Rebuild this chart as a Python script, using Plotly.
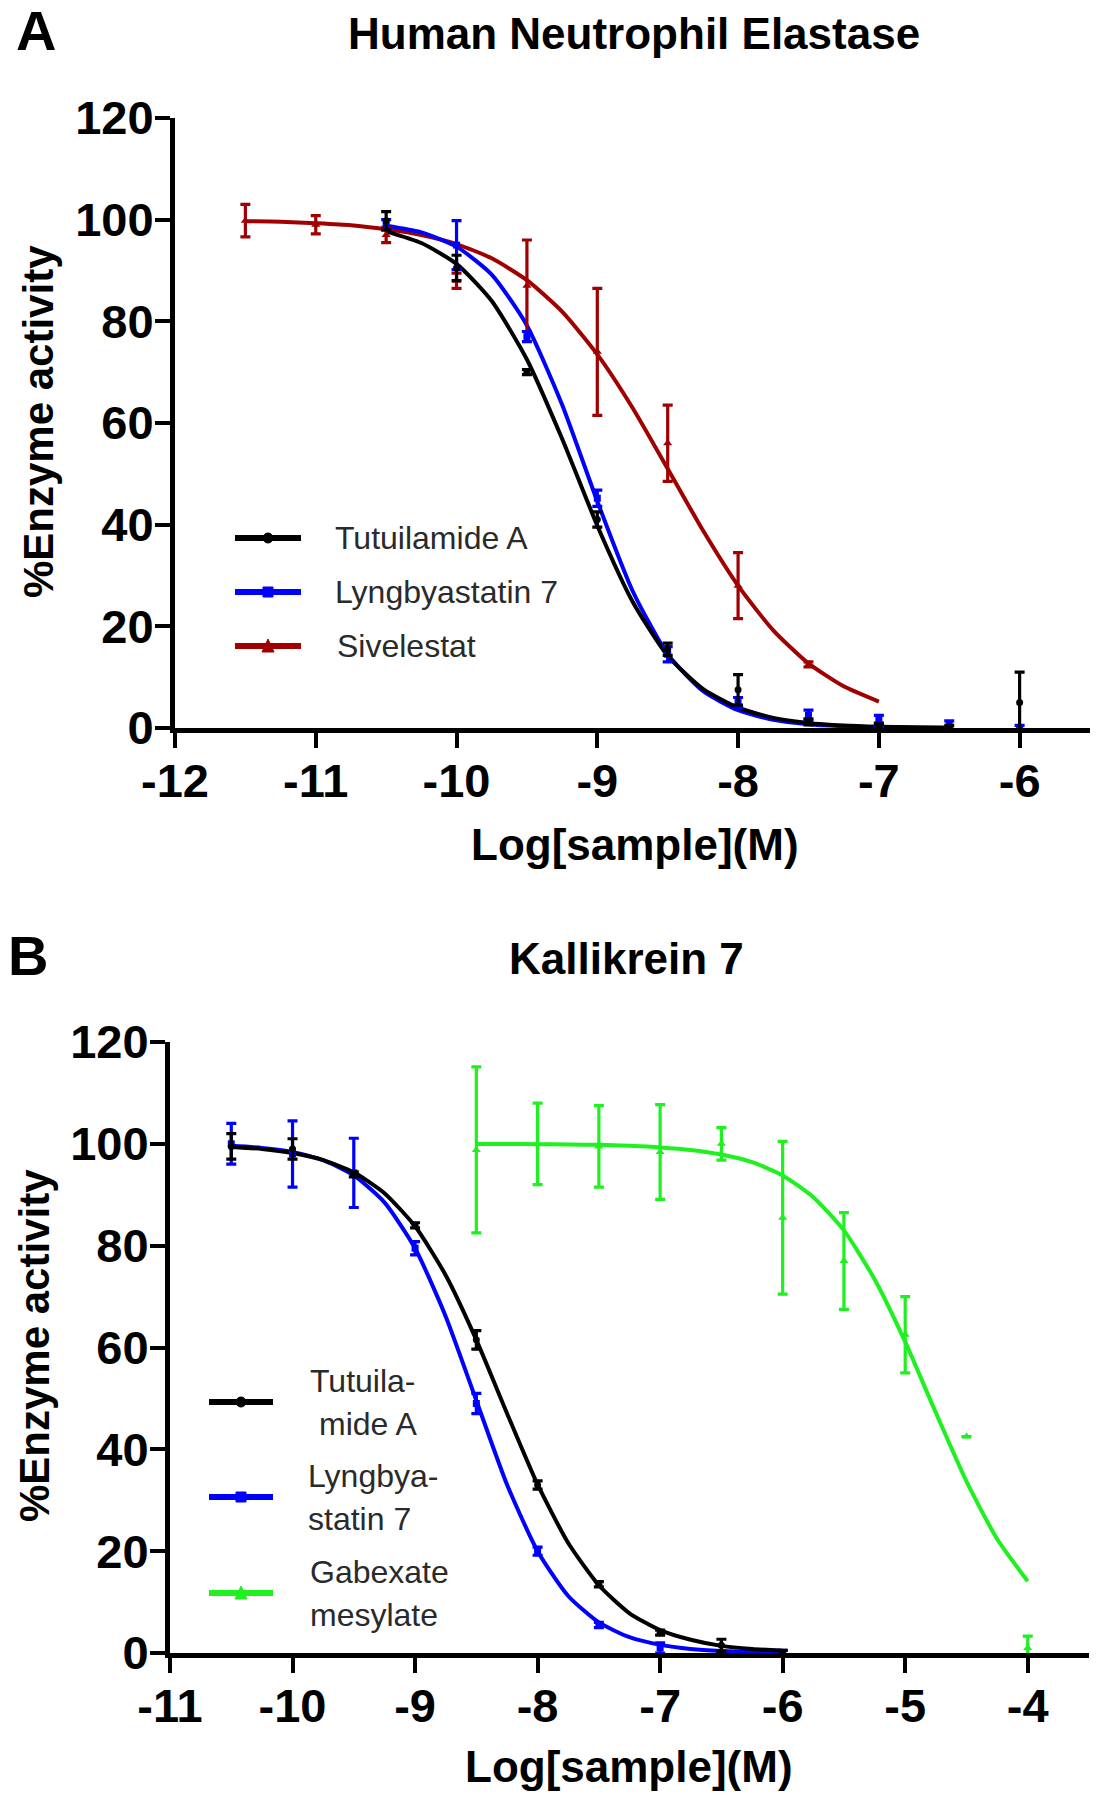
import plotly.graph_objects as go

W, H = 1102, 1800

# ---------------- Panel A : Human Neutrophil Elastase ----------------
a_x = [-10.5, -10, -9.5, -9, -8.5, -8, -7.5, -7, -6.5, -6]
a_tut_y = [99.8, 90.5, 70, 41, 15.5, 7.5, 1.2, 0.3, 0, 5]
a_tut_err = [1.8, 2.5, 0.5, 1.5, 1.2, 3, 0.6, 0.5, 0.5, 6]
a_lyn_y = [99, 95, 77, 45.2, 14.5, 5, 2.5, 1.5, 0.6, 0]
a_lyn_err = [1, 4.8, 1, 1.6, 1.5, 1, 1, 1, 0.8, 0.5]
a_siv_x = [-11.5, -11, -10.5, -10, -9.5, -9, -8.5, -8, -7.5, -7]
a_siv_y = [99.8, 99, 97, 88, 87, 74, 56, 28, 12.5, 0.5]
a_siv_err = [3.2, 1.8, 1.5, 1.5, 9, 12.5, 7.5, 6.5, 0.5, 0.5]

a_fit_x = [-10.5, -10.25, -10, -9.75, -9.5, -9.25, -9, -8.75, -8.5, -8.25,
           -8, -7.75, -7.5, -7.25, -7, -6.75, -6.5]
a_fit_tut = [97.7, 95.4, 91.3, 84.0, 72.5, 56.9, 39.8, 24.9, 14.2, 7.7,
             4.0, 2.0, 1.0, 0.5, 0.26, 0.13, 0.07]
a_fit_lyn = [98.8, 97.5, 94.7, 89.2, 79.2, 63.6, 44.6, 27.0, 14.5, 7.3,
             3.5, 1.6, 0.75, 0.35, 0.16, 0.07, 0.03]
a_fit_siv_x = [-11.5, -11.25, -11, -10.75, -10.5, -10.25, -10, -9.75, -9.5, -9.25,
               -9, -8.75, -8.5, -8.25, -8, -7.75, -7.5, -7.25, -7]
a_fit_siv = [99.7, 99.6, 99.3, 98.9, 98.1, 97.0, 95.2, 92.4, 88.1, 81.9,
             73.5, 63.0, 51.0, 38.9, 28.0, 19.2, 12.7, 8.2, 5.2]

a_xticks = [-12, -11, -10, -9, -8, -7, -6]
a_xticklabels = ["-12", "-11", "-10", "-9", "-8", "-7", "-6"]

# ---------------- Panel B : Kallikrein 7 ----------------
b_x = [-10.5, -10, -9.5, -9, -8.5, -8, -7.5, -7, -6.5, -6]
b_tut_y = [99.5, 99, 94, 84, 61.5, 33, 13.5, 4, 1.5, 0]
b_tut_err = [2.5, 2, 0.5, 0.5, 1.8, 0.8, 0.5, 0.5, 1.2, 0.5]
b_lyn_y = [100, 98, 94.3, 79.5, 49, 20, 5.5, 1, -0.5, 0]
b_lyn_err = [4, 6.5, 6.8, 1.3, 2, 0.8, 0.5, 1, 0.8, 0.5]
b_gab_x = [-8.5, -8, -7.5, -7, -6.5, -6, -5.5, -5, -4.5, -4]
b_gab_y = [98.8, 100, 99.5, 98.4, 100, 85.5, 77, 62.5, 42.5, 1]
b_gab_err = [16.3, 8, 8, 9.3, 3.2, 15, 9.5, 7.5, 0, 2.3]

b_fit_x = [-10.5, -10.25, -10, -9.75, -9.5, -9.25, -9, -8.75, -8.5, -8.25,
           -8, -7.75, -7.5, -7.25, -7, -6.75, -6.5, -6.25, -6]
b_fit_tut = [99.4, 99.0, 98.2, 96.8, 94.4, 90.3, 83.8, 74.2, 61.5, 47.1,
             33.1, 21.6, 13.3, 7.8, 4.5, 2.6, 1.4, 0.8, 0.45]
b_fit_lyn = [99.6, 99.2, 98.4, 96.8, 93.8, 88.5, 79.5, 66.1, 49.6, 33.1,
             20.0, 11.2, 6.0, 3.1, 1.6, 0.8, 0.4, 0.2, 0.1]
b_fit_gab_x = [-8.5, -8.25, -8, -7.75, -7.5, -7.25, -7, -6.75, -6.5, -6.25,
               -6, -5.75, -5.5, -5.25, -5, -4.75, -4.5, -4.25, -4]
b_fit_gab = [99.98, 99.96, 99.93, 99.87, 99.8, 99.6, 99.3, 98.8, 97.9, 96.4,
             93.8, 89.5, 83.0, 73.4, 61.1, 47.2, 33.7, 22.4, 14.1]

b_xticks = [-11, -10, -9, -8, -7, -6, -5, -4]
b_xticklabels = ["-11", "-10", "-9", "-8", "-7", "-6", "-5", "-4"]

y_ticks = [0, 20, 40, 60, 80, 100, 120]
y_ticklabels = ["0", "20", "40", "60", "80", "100", "120"]

BLACK = "#000000"
BLUE = "#0000FF"
RED = "#A00000"
GREEN = "#1FF01F"

FONT = "Liberation Sans, Arial, sans-serif"


def px(x):
    return x / W


def py(y):
    return 1 - y / H


fig = go.Figure()


def add_points(x, y, err, color, symbol, size, xa, ya):
    fig.add_trace(go.Scatter(
        x=x, y=y, mode="markers", xaxis=xa, yaxis=ya, showlegend=False,
        marker=dict(color=color, symbol=symbol, size=size),
        error_y=dict(type="data", array=err, visible=True, color=color,
                     thickness=3.2, width=5),
        cliponaxis=False, hoverinfo="skip"))


def add_curve(x, y, color, xa, ya):
    fig.add_trace(go.Scatter(
        x=x, y=y, mode="lines", xaxis=xa, yaxis=ya, showlegend=False,
        line=dict(color=color, width=4, shape="spline", smoothing=0.6),
        cliponaxis=False, hoverinfo="skip"))


# Panel A
add_curve(a_fit_siv_x, a_fit_siv, RED, "x", "y")
add_curve(a_fit_x, a_fit_lyn, BLUE, "x", "y")
add_curve(a_fit_x, a_fit_tut, BLACK, "x", "y")
add_points(a_siv_x, a_siv_y, a_siv_err, RED, "triangle-up", 8, "x", "y")
add_points(a_x, a_lyn_y, a_lyn_err, BLUE, "square", 7, "x", "y")
add_points(a_x, a_tut_y, a_tut_err, BLACK, "circle", 7, "x", "y")

# Panel B
add_curve(b_fit_gab_x, b_fit_gab, GREEN, "x2", "y2")
add_curve(b_fit_x, b_fit_lyn, BLUE, "x2", "y2")
add_curve(b_fit_x, b_fit_tut, BLACK, "x2", "y2")
add_points(b_gab_x, b_gab_y, b_gab_err, GREEN, "triangle-up", 8, "x2", "y2")
add_points(b_x, b_lyn_y, b_lyn_err, BLUE, "square", 7, "x2", "y2")
add_points(b_x, b_tut_y, b_tut_err, BLACK, "circle", 7, "x2", "y2")

axis_common = dict(
    showline=True, linewidth=5, linecolor="black", mirror=False,
    ticks="outside", ticklen=15, tickwidth=4, tickcolor="black",
    showgrid=False, zeroline=False, automargin=False, fixedrange=True,
    tickfont=dict(family=FONT, size=47, color="black", weight="bold"),
)

fig.update_layout(
    width=W, height=H,
    margin=dict(l=0, r=0, t=0, b=0),
    paper_bgcolor="white", plot_bgcolor="white",
    showlegend=False,
    xaxis=dict(domain=[px(175), px(1090)], range=[-12, -5.5], anchor="y",
               tickmode="array", tickvals=a_xticks, ticktext=a_xticklabels,
               ticklabelstandoff=-7, **axis_common),
    yaxis=dict(domain=[py(728), py(118)], range=[0, 120], anchor="x",
               tickmode="array", tickvals=y_ticks, ticktext=y_ticklabels,
               ticklabelstandoff=-8, **axis_common),
    xaxis2=dict(domain=[px(170), px(1089)], range=[-11, -3.5], anchor="y2",
                tickmode="array", tickvals=b_xticks, ticktext=b_xticklabels,
                ticklabelstandoff=-7, **axis_common),
    yaxis2=dict(domain=[py(1653), py(1042)], range=[0, 120], anchor="x2",
                tickmode="array", tickvals=y_ticks, ticktext=y_ticklabels,
                ticklabelstandoff=-8, **axis_common),
)

annotations = []


def text(t, x, y, size, bold=True, xanchor="center", angle=0, color="black"):
    annotations.append(dict(
        text=t, x=px(x), y=py(y), xref="paper", yref="paper",
        xanchor=xanchor, yanchor="middle", showarrow=False, textangle=angle,
        font=dict(family=FONT, size=size, color=color,
                  weight="bold" if bold else "normal")))


# panel letters and titles
text("A", 14, 30, 56, xanchor="left")
text("B", 6, 955, 56, xanchor="left")
text("Human Neutrophil Elastase", 634, 34, 44)
text("Kallikrein 7", 626, 958, 44)
# axis titles
text("%Enzyme activity", 38, 422, 42, angle=-90)
text("%Enzyme activity", 34, 1346, 42, angle=-90)
text("Log[sample](M)", 635, 844, 44)
text("Log[sample](M)", 629, 1766, 44)

shapes = []


def legend_sample(x0, x1, y, color, symbol):
    shapes.append(dict(type="line", xref="paper", yref="paper",
                       x0=px(x0), x1=px(x1), y0=py(y), y1=py(y),
                       line=dict(color=color, width=6)))
    cx = (x0 + x1) / 2
    r = 5
    if symbol == "circle":
        shapes.append(dict(type="circle", xref="paper", yref="paper",
                           x0=px(cx - r), x1=px(cx + r), y0=py(y + r), y1=py(y - r),
                           fillcolor=color, line=dict(color=color, width=1)))
    elif symbol == "square":
        shapes.append(dict(type="rect", xref="paper", yref="paper",
                           x0=px(cx - r), x1=px(cx + r), y0=py(y + r), y1=py(y - r),
                           fillcolor=color, line=dict(color=color, width=1)))
    else:
        path = "M{},{} L{},{} L{},{} Z".format(
            px(cx - r - 1), py(y + r + 1), px(cx + r + 1), py(y + r + 1), px(cx), py(y - r - 2))
        shapes.append(dict(type="path", xref="paper", yref="paper", path=path,
                           fillcolor=color, line=dict(color=color, width=1)))


LEG_COLOR = "#2a2a2a"
LEG_SIZE = 32
# Legend A
legend_sample(235, 301, 538, BLACK, "circle")
legend_sample(235, 301, 592, BLUE, "square")
legend_sample(235, 301, 646, RED, "triangle")
text("Tutuilamide A", 333, 538, LEG_SIZE, bold=False, xanchor="left", color=LEG_COLOR)
text("Lyngbyastatin 7", 333, 592, LEG_SIZE, bold=False, xanchor="left", color=LEG_COLOR)
text("Sivelestat", 335, 646, LEG_SIZE, bold=False, xanchor="left", color=LEG_COLOR)

# Legend B
legend_sample(209, 273, 1402, BLACK, "circle")
legend_sample(209, 273, 1497, BLUE, "square")
legend_sample(209, 273, 1593, GREEN, "triangle")
text("Tutuila-", 308, 1381, LEG_SIZE, bold=False, xanchor="left", color=LEG_COLOR)
text("mide A", 317, 1424, LEG_SIZE, bold=False, xanchor="left", color=LEG_COLOR)
text("Lyngbya-", 306, 1476, LEG_SIZE, bold=False, xanchor="left", color=LEG_COLOR)
text("statin 7", 306, 1519, LEG_SIZE, bold=False, xanchor="left", color=LEG_COLOR)
text("Gabexate", 308, 1572, LEG_SIZE, bold=False, xanchor="left", color=LEG_COLOR)
text("mesylate", 308, 1615, LEG_SIZE, bold=False, xanchor="left", color=LEG_COLOR)

fig.update_layout(annotations=annotations, shapes=shapes)

fig.write_html("out.html", config={"displayModeBar": False},
               post_script="document.body.style.margin='0px';document.body.style.padding='0px';")
